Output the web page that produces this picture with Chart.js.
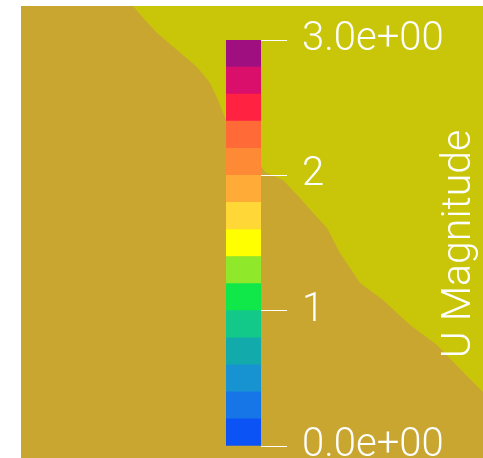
<!DOCTYPE html>
<html lang="en">
<head>
    <meta charset="UTF-8">
    <title>U Magnitude</title>
    <script src="https://cdn.jsdelivr.net/npm/chart.js"></script>
    <style>
        body { margin: 0; background: #fff; }
        #wrap { position: relative; width: 483px; height: 458px; }
        #wrap canvas { position: absolute; left: 0; top: 0; }
    </style>
</head>
<body>
    <div id="wrap">
        <canvas id="fieldChart" width="483" height="458"></canvas>
        <canvas id="barChart" width="483" height="458"></canvas>
    </div>

    <script>
        // boundary between the low (ochre) and high (yellow) zones, in view coordinates
        const boundaryX = [133, 145, 157, 177, 197, 210, 218, 226, 240, 255, 265, 283, 300, 315, 327, 340, 360, 383, 410, 437, 463, 483];
        const boundaryY = [6, 20, 33, 50, 67, 83, 100, 120, 140, 158, 172, 180, 198, 215, 228, 253, 283, 300, 325, 345, 372, 392];

        // colour legend: bin edges and colours, bottom to top
        const binLow = [0.0, 0.2, 0.4, 0.6, 0.8, 1.0, 1.2, 1.4, 1.6, 1.8, 2.0, 2.2, 2.4, 2.6, 2.8];
        const binHigh = [0.2, 0.4, 0.6, 0.8, 1.0, 1.2, 1.4, 1.6, 1.8, 2.0, 2.2, 2.4, 2.6, 2.8, 3.0];
        const binColors = ['#0b53f5', '#1676e8', '#1893d2', '#12aaaa', '#12c98a', '#10e84a', '#8fe82a', '#ffff00',
                           '#ffd838', '#ffab38', '#ff8a36', '#ff6a36', '#ff2241', '#da0f6b', '#a00f80'];
        const tickValues = [0, 1, 2, 3];
        const tickLabels = ['0.0e+00', '1', '2', '3.0e+00'];
        const titleText = 'U Magnitude';

        const lowColor = '#c8a630';
        const highColor = '#c9c60a';
        const fontFamily = 'Roboto, "Open Sans", sans-serif';

        const fieldBg = {
            id: 'fieldBg',
            beforeDatasetsDraw(chart) {
                const { ctx, chartArea } = chart;
                ctx.save();
                ctx.fillStyle = lowColor;
                ctx.fillRect(chartArea.left, chartArea.top, chartArea.right - chartArea.left, chartArea.bottom - chartArea.top);
                ctx.restore();
            }
        };

        new Chart(document.getElementById('fieldChart'), {
            type: 'scatter',
            data: {
                datasets: [{
                    data: boundaryX.map((x, i) => ({ x: x, y: boundaryY[i] })),
                    showLine: true,
                    pointRadius: 0,
                    borderWidth: 0,
                    borderColor: highColor,
                    backgroundColor: highColor,
                    fill: 'end'
                }]
            },
            options: {
                responsive: false,
                animation: false,
                layout: { padding: { left: 21, top: 6, right: 0, bottom: 0 } },
                plugins: { legend: { display: false }, tooltip: { enabled: false } },
                scales: {
                    x: { type: 'linear', min: 21, max: 483, display: false },
                    y: { type: 'linear', min: 6, max: 458, reverse: true, display: false }
                }
            },
            plugins: [fieldBg]
        });

        const titlePlugin = {
            id: 'barTitle',
            afterDraw(chart) {
                const { ctx } = chart;
                ctx.save();
                ctx.translate(470, 244);
                ctx.rotate(-Math.PI / 2);
                ctx.fillStyle = '#ffffff';
                ctx.font = '300 41px ' + fontFamily;
                ctx.textAlign = 'center';
                ctx.textBaseline = 'alphabetic';
                ctx.fillText(titleText, 0, 0);
                ctx.restore();
            }
        };

        new Chart(document.getElementById('barChart'), {
            type: 'bar',
            data: {
                labels: ['U'],
                datasets: binLow.map((lo, i) => ({
                    data: [[lo, binHigh[i]]],
                    backgroundColor: binColors[i],
                    borderWidth: 0,
                    barPercentage: 1,
                    categoryPercentage: 1,
                    grouped: false
                }))
            },
            options: {
                responsive: false,
                animation: false,
                layout: { padding: { left: 226, top: 40, right: 0, bottom: 12 } },
                plugins: { legend: { display: false }, tooltip: { enabled: false } },
                scales: {
                    x: { display: false },
                    y: {
                        position: 'right',
                        min: 0,
                        max: 3,
                        afterBuildTicks(scale) {
                            scale.ticks = tickValues.map(v => ({ value: v }));
                        },
                        afterFit(scale) {
                            scale.width = 222;
                            scale.paddingTop = 0;
                            scale.paddingBottom = 0;
                        },
                        border: { display: false },
                        grid: {
                            drawOnChartArea: false,
                            drawTicks: true,
                            tickLength: 26,
                            color: '#ffffff',
                            lineWidth: 1
                        },
                        ticks: {
                            padding: 15,
                            color: '#ffffff',
                            font: { family: fontFamily, size: 40, weight: 300 },
                            callback: (value) => tickLabels[tickValues.indexOf(value)]
                        }
                    }
                }
            },
            plugins: [titlePlugin]
        });
    </script>
</body>
</html>
